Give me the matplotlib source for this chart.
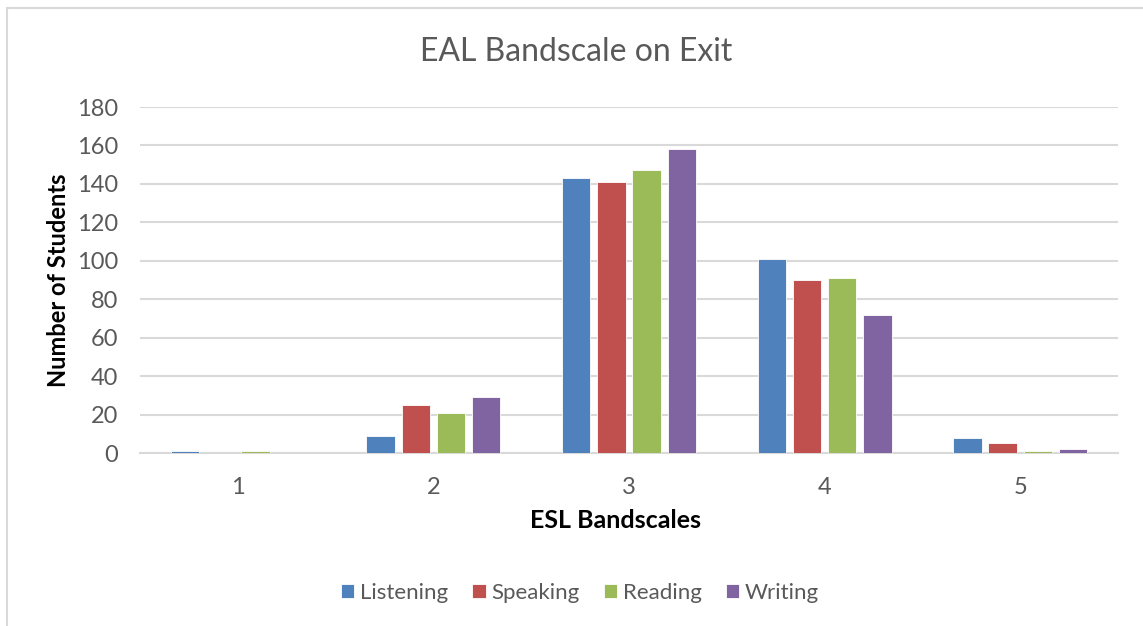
import matplotlib.pyplot as plt
import numpy as np
from matplotlib.patches import Rectangle

# Students by exit bandscale, per skill
bandscales = ["1", "2", "3", "4", "5"]
listening = [1, 9, 143, 101, 8]
speaking = [0, 25, 141, 90, 5]
reading = [1, 21, 147, 91, 1]
writing = [0, 29, 158, 72, 2]
series_names = ["Listening", "Speaking", "Reading", "Writing"]
colors = ["#4F81BD", "#C0504D", "#9BBB59", "#8064A2"]
y_ticks = [0, 20, 40, 60, 80, 100, 120, 140, 160, 180]

plt.rcParams["font.family"] = ["Lato", "DejaVu Sans"]
text_color = "#595959"

W, H = 1143, 626
fig = plt.figure(figsize=(W / 100, H / 100), dpi=100)
ax = fig.add_axes([140 / W, 1 - 453 / H, 978 / W, 346 / H])

# light chart-area frame
fig.patches.append(Rectangle((7 / W, -0.1), 1.2, 1 - 8 / H + 0.1,
                             transform=fig.transFigure, fill=False,
                             edgecolor="#D9D9D9", linewidth=1.5))

x = np.arange(len(bandscales))
step = 0.18
width = 0.145
all_series = [listening, speaking, reading, writing]
for i, (vals, name, col) in enumerate(zip(all_series, series_names, colors)):
    offset = (i - 1.5) * step
    ax.bar(x + offset, vals, width, color=col, label=name,
           edgecolor="white", linewidth=0.6, zorder=3)

ax.set_xlim(-0.5, len(bandscales) - 0.5)
ax.set_ylim(0, 180)
ax.set_yticks(y_ticks)
ax.set_xticks(x)
ax.set_xticklabels(bandscales)
ax.grid(axis="y", color="#D9D9D9", linewidth=1.5, zorder=0)
ax.set_axisbelow(True)
for side in ["top", "right", "left"]:
    ax.spines[side].set_visible(False)
ax.spines["bottom"].set_color("#D9D9D9")
ax.spines["bottom"].set_linewidth(1.5)
ax.tick_params(axis="both", length=0, labelsize=17, colors=text_color)
ax.tick_params(axis="x", pad=17)
ax.tick_params(axis="y", pad=16)

fig.text(576 / W, 1 - 52 / H, "EAL Bandscale on Exit", fontsize=23,
         color=text_color, ha="center", va="center")
fig.text(616 / W, 1 - 521 / H, "ESL Bandscales", fontsize=18,
         fontweight="bold", color="black", ha="center", va="center")
fig.text(59 / W, 1 - 280 / H, "Number of Students", fontsize=17,
         fontweight="bold", color="black", ha="center", va="center",
         rotation=90)

leg = fig.legend(loc="center", bbox_to_anchor=(580 / W, 1 - 593 / H),
                 ncol=4, frameon=False, fontsize=16, handlelength=0.6,
                 handleheight=0.6, handletextpad=0.25, columnspacing=1.1)
for t in leg.get_texts():
    t.set_color(text_color)

fig.savefig("out.png", dpi=100, facecolor="white")
